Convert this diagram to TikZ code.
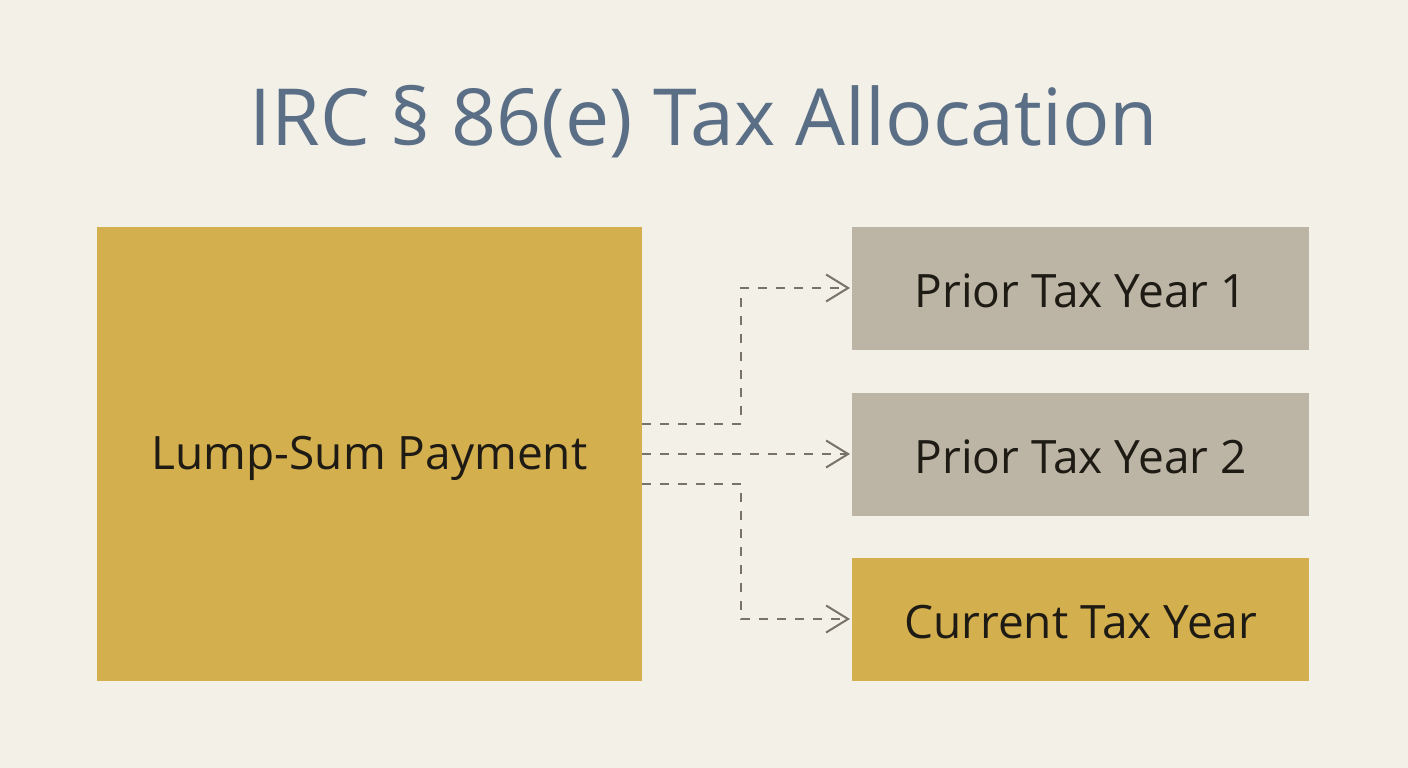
\documentclass[tikz,border=0pt]{standalone}
\usepackage{fontspec}
\setmainfont{Open Sans}
\usetikzlibrary{arrows.meta}
\definecolor{bg}{HTML}{F3F0E8}
\definecolor{gold}{HTML}{D4AF4E}
\definecolor{greybox}{HTML}{BCB4A4}
\definecolor{titleblue}{HTML}{5A6E86}
\definecolor{ink}{HTML}{1E1A14}
\definecolor{linegrey}{HTML}{77726A}
\tikzset{
  box/.style={draw=none, anchor=north west, inner sep=0pt},
  lbl/.style={text=ink, font=\fontsize{46}{54}\selectfont},
  conn/.style={draw=linegrey, line width=2pt, dash pattern=on 9pt off 9pt, -{Straight Barb[length=22pt,width=27pt,line width=2pt]}}
}
\begin{document}
\begin{tikzpicture}[x=1pt,y=-1pt]
\fill[bg] (0,0) rectangle (1408,768);
\useasboundingbox (0,0) rectangle (1408,768);
\node[text=titleblue, font=\fontsize{78.8}{90}\selectfont] (title) at (704,122) {IRC § 86(e) Tax Allocation};
\node[box, fill=gold, minimum width=545pt, minimum height=454pt] (lump) at (97,227) {};
\node[lbl] (lumpt) at (369.5,458) {Lump-Sum Payment};
\node[box, fill=greybox, minimum width=457pt, minimum height=123pt] (p1) at (852,227) {};
\node[box, fill=greybox, minimum width=457pt, minimum height=123pt] (p2) at (852,393) {};
\node[box, fill=gold, minimum width=457pt, minimum height=123pt] (cur) at (852,558) {};
\node[lbl, yshift=-2pt] (p1t) at (p1.center) {Prior Tax Year 1};
\node[lbl, yshift=-2pt] (p2t) at (p2.center) {Prior Tax Year 2};
\node[lbl, yshift=-2pt] (curt) at (cur.center) {Current Tax Year};
\coordinate (s1) at (642,424);
\coordinate (s2) at (642,454);
\coordinate (s3) at (642,484);
\coordinate (e1) at (850,288);
\coordinate (e2) at (850,454);
\coordinate (e3) at (850,619);
\draw[conn] (s1) -- (741,424) -- (741,288) -- (e1);
\draw[conn] (s2) -- (e2);
\draw[conn] (s3) -- (741,484) -- (741,619) -- (e3);
\end{tikzpicture}
\end{document}
